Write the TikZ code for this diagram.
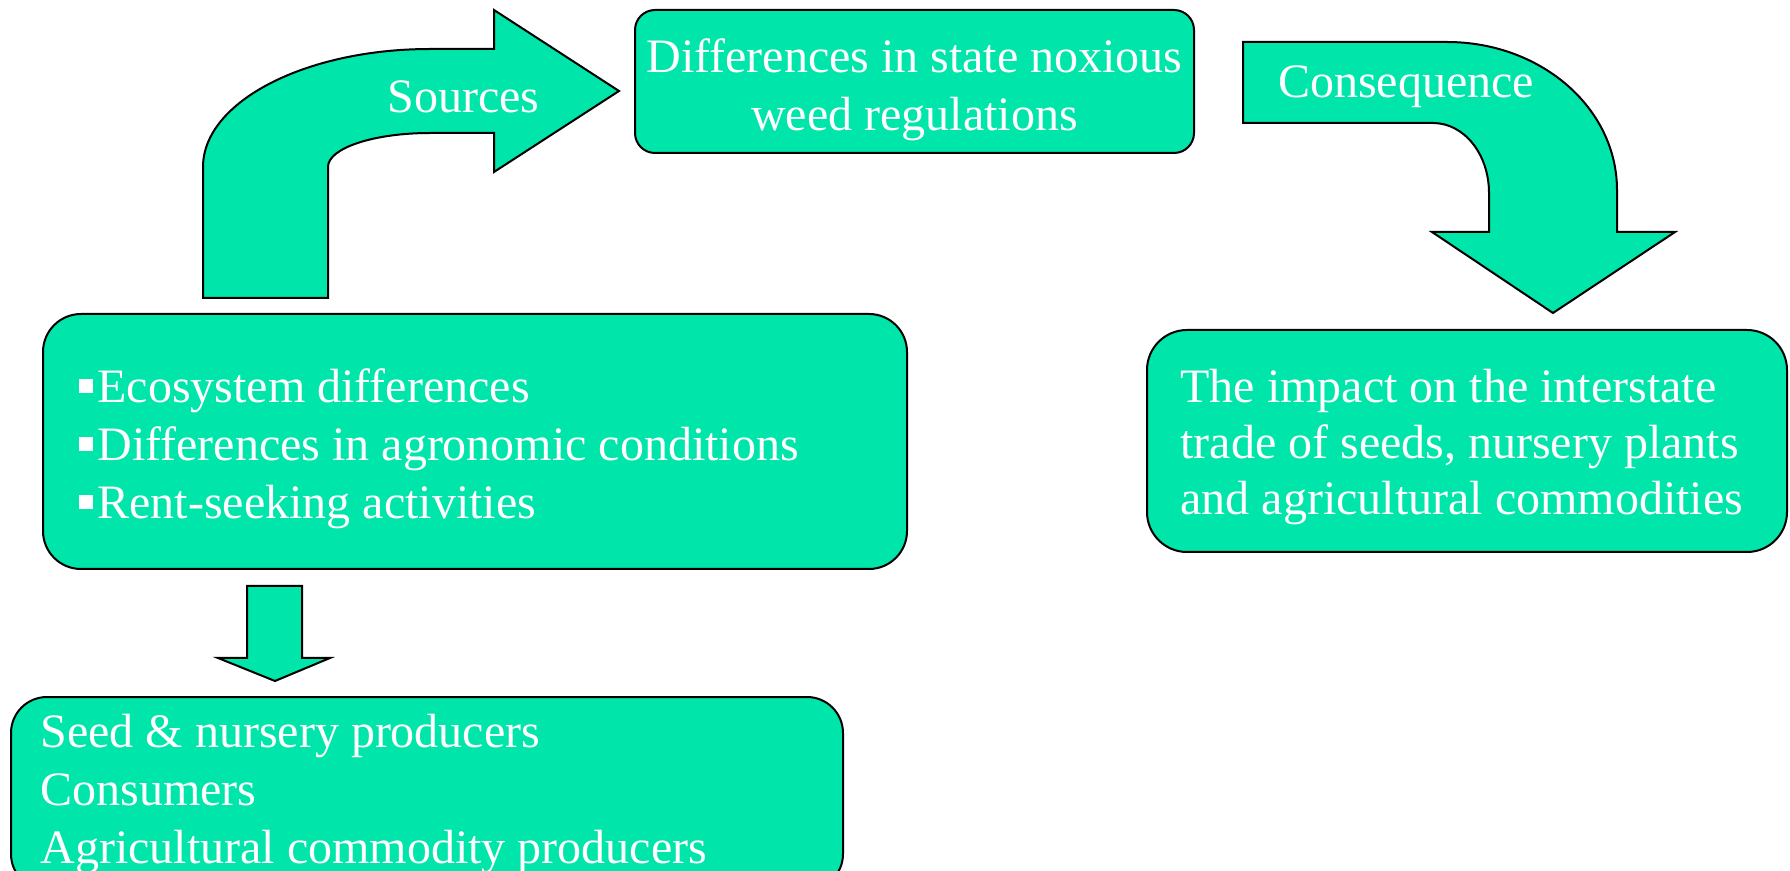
\documentclass[tikz,border=0pt]{standalone}
\usepackage{fontspec}
\setmainfont{Liberation Serif}

\definecolor{mint}{RGB}{0,229,170}
\newcommand{\sqbullet}{\rule[4.5pt]{7pt}{7pt}\hspace{2pt}}

\begin{document}
\begin{tikzpicture}[x=0.5pt, y=-0.5pt,
        box/.style={draw=black, fill=mint, line width=1pt, inner sep=0pt},
        blockarrow/.style={draw=black, fill=mint, line width=1pt, line join=miter},
        txt/.style={text=white, inner sep=0pt, font=\fontsize{24}{29}\selectfont}]
        % one unit is one pixel of the 1790 x 871 frame, y runs downwards
        \useasboundingbox (0,0) rectangle (1790,871);
        \clip (0,0) rectangle (1790,871);

        % Boxes
        \node[box, rounded corners=10pt, minimum width=279.5pt, minimum height=71.5pt] (diffbox) at (914.5,81.5) {};
        \node[box, rounded corners=19pt, minimum width=432pt, minimum height=127.5pt] (ecobox) at (475,441.5) {};
        \node[box, rounded corners=20pt, minimum width=320pt, minimum height=111pt] (impactbox) at (1467,441) {};
        \node[box, rounded corners=18pt, minimum width=416pt, minimum height=96.5pt] (groupbox) at (427,793.5) {};

        % Box texts
        \node[txt, anchor=north, align=center] (difftext) at (914.5,38)
            {Differences in state noxious\\weed regulations};
        \node[txt, anchor=north west, align=left] (ecotext) at (79,368)
            {\sqbullet Ecosystem differences\\\sqbullet Differences in agronomic conditions\\\sqbullet Rent-seeking activities};
        \node[txt, anchor=north west, align=left, font=\fontsize{24}{28}\selectfont] (impacttext) at (1180,369)
            {The impact on the interstate\\trade of seeds, nursery plants\\and agricultural commodities};
        \node[txt, anchor=north west, align=left] (grouptext) at (40,714)
            {Seed \& nursery producers\\Consumers\\Agricultural commodity producers};

        % Bent arrow: sources
        \draw[blockarrow] (203,298) -- (203,167)
            .. controls (203,102) and (305,49) .. (430,49)
            -- (494,49) -- (494,10) -- (619,91) -- (494,172) -- (494,133) -- (430,133)
            .. controls (374,133) and (328,148) .. (328,167)
            -- (328,298) -- cycle;
        \node[txt, anchor=base] (srclabel) at (463.5,113) {Sources};

        % Bent arrow: consequence
        \draw[blockarrow] (1243,42) -- (1447,42)
            .. controls (1541,42) and (1617,108) .. (1617,190)
            -- (1617,232) -- (1675,232) -- (1553,313) -- (1432,232) -- (1489,232) -- (1489,193)
            .. controls (1489,154) and (1464,123) .. (1433,123)
            -- (1243,123) -- cycle;
        \node[txt, anchor=base] (conslabel) at (1406,98) {Consequence};

        % Small arrow down to the affected groups
        \draw[blockarrow] (247,586) -- (302,586) -- (302,658) -- (330,658)
            -- (275,681) -- (218,658) -- (247,658) -- cycle;
\end{tikzpicture}
\end{document}
